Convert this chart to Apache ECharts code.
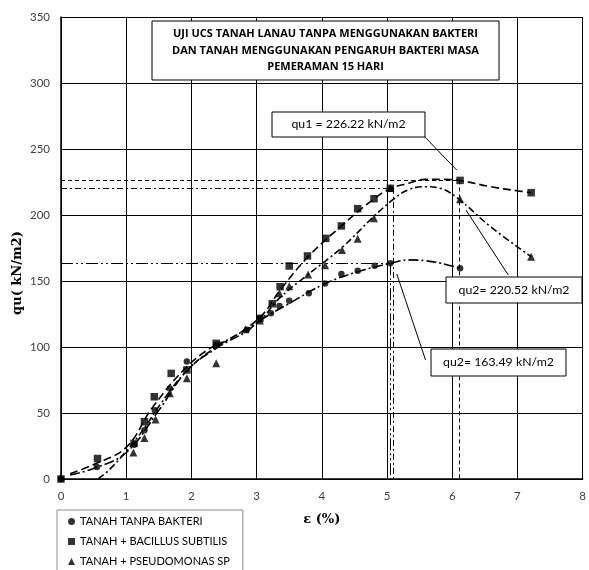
<!DOCTYPE html>
<html><head><meta charset="utf-8">
<script src="https://cdn.jsdelivr.net/npm/echarts@6/dist/echarts.min.js"></script>
<style>html,body{margin:0;padding:0;background:#fff}#c{width:589px;height:570px}</style>
</head><body><div id="c"></div>
<script>
// ---- data ----
const seriesNames = ['TANAH TANPA BAKTERI', 'TANAH + BACILLUS SUBTILIS', 'TANAH + PSEUDOMONAS SP'];
const xTicks = [0, 1, 2, 3, 4, 5, 6, 7, 8];
const yTicks = [0, 50, 100, 150, 200, 250, 300, 350];

const tanpaBakteri = [[0,0],[0.55,9],[1.12,26],[1.28,37],[1.44,52],[1.67,68.5],[1.93,89],[2.38,101.5],[2.85,113],[3.05,121.7],[3.22,125.5],[3.35,131],[3.5,135],[3.8,140.7],[4.05,148.2],[4.3,155.3],[4.55,157.8],[4.81,161.6],[5.05,163.49],[6.12,159.6]];
const bacillus = [[0,0],[0.56,15.5],[1.12,27],[1.28,43.4],[1.43,62.3],[1.69,80],[1.93,82.6],[2.38,102.8],[3.05,121.7],[3.24,132.8],[3.36,145.7],[3.5,161.4],[3.78,169],[4.06,182.3],[4.3,191.7],[4.55,204.8],[4.8,212.3],[5.05,220.2],[6.12,226.22],[7.21,216.9]];
const pseudomonas = [[1.11,20],[1.28,31],[1.45,45],[1.67,65],[1.93,76.3],[2.38,87.7],[2.83,113.5],[3.05,120],[3.35,140.7],[3.5,146],[3.79,155],[4.05,162],[4.31,173.5],[4.55,182],[4.8,197.5],[5.05,220.52],[6.12,211.9],[7.21,168.4]];

// trend curves
const trendTanpa = [[0.14,3],[0.5,8],[1.0,20],[1.5,52],[1.93,82],[2.38,99],[2.85,112],[3.05,120],[3.5,133],[4.05,148],[4.55,157],[5.05,163.4],[5.33,166],[5.58,165.4],[5.83,163.4],[6.12,159.6]];
const trendBacillus = [[0.14,4],[0.5,11],[1.0,24],[1.4,54],[1.93,85],[2.38,102],[2.56,105],[3.06,123],[3.36,143],[3.79,168.4],[4.3,191.7],[4.8,212.3],[5.05,220],[5.33,224],[5.58,227],[5.83,227],[6.13,226],[6.59,221.4],[6.99,218.4],[7.21,216.9]];
const trendPseudo = [[0.57,0],[0.74,7],[1.0,21],[1.3,40],[1.5,55],[1.93,82],[2.38,100],[2.83,113],[3.05,120],[3.35,137],[3.79,155],[4.3,175],[4.8,199],[5.1,212],[5.32,219],[5.58,221.4],[5.83,220],[6.1,212],[6.59,191],[7.21,168.4]];

// peak reference values
const peakBacillus = [6.1, 226.22];
const peakPseudo = [5.1, 220.52];
const peakTanpa = [5.05, 163.49];
const titleLines = ['UJI UCS TANAH LANAU TANPA MENGGUNAKAN BAKTERI', 'DAN TANAH MENGGUNAKAN PENGARUH BAKTERI MASA', 'PEMERAMAN 15 HARI'];
const noteTexts = ['qu1 = 226.22 kN/m2', 'qu2= 220.52 kN/m2', 'qu2= 163.49 kN/m2'];
// arrows: [from, to] in data units
const noteArrows = [[[5.51,262.7],[6.07,234]], [[6.86,154.5],[6.21,203.8]], [[5.59,90.2],[5.15,155.3]]];

// ---- chart ----
const chart = echarts.init(document.getElementById('c'));
const sans = 'Lato, "Liberation Sans", sans-serif';
const boldSans = '"Open Sans", "Noto Sans", sans-serif';
function refLines(p, dash) {
  return {
    silent: true, symbol: ['none','none'], animation: false, label: {show:false},
    lineStyle: {color:'#000', width:1, type: dash},
    emphasis: {disabled:true},
    data: [
      [{coord:[0, p[1]]}, {coord:[p[0], p[1]]}],
      [{coord:[p[0], p[1]]}, {coord:[p[0], 0]}]
    ]
  };
}
function trend(data, dash, ref) {
  return {type:'line', data: data, smooth: 0.4, showSymbol:false, silent:true, z:2,
    lineStyle:{color:'#000', width:1.6, type: dash}, markLine: ref};
}
function box(x, y, w, h, text, font) {
  return [
    {type:'rect', z:100, shape:{x:x, y:y, width:w, height:h}, style:{fill:'#fff', stroke:'#000', lineWidth:1}},
    {type:'text', z:101, x:x + w/2, y:y + h/2, style:Object.assign({text:text, textAlign:'center', textVerticalAlign:'middle', fill:'#000'}, font)}
  ];
}
const icons = ['circle','rect','triangle'];
const noteFont = {fontFamily: sans, fontSize: 12.3};
chart.setOption({
  animation: false,
  backgroundColor: '#fff',
  grid: {left: 61, top: 17, width: 530, height: 462, containLabel: false},
  xAxis: {
    type:'value', min: xTicks[0], max: xTicks[xTicks.length-1], interval: 1,
    name: 'ε (%)', nameLocation:'middle', nameGap: 34,
    nameTextStyle: {fontFamily:'"DejaVu Serif", serif', fontWeight:'bold', fontSize:13, color:'#000'},
    axisLine: {lineStyle:{color:'#000', width:1.5}},
    axisTick: {show:false},
    axisLabel: {color:'#404040', fontSize:11.5, fontFamily: sans, margin: 11},
    splitLine: {lineStyle:{color:'#000', width:1}}
  },
  yAxis: {
    type:'value', min: yTicks[0], max: yTicks[yTicks.length-1], interval: 50,
    axisLine: {show:true, lineStyle:{color:'#000', width:1.5}},
    axisTick: {show:false},
    axisLabel: {color:'#404040', fontSize:11.5, fontFamily: sans, margin: 11},
    splitLine: {lineStyle:{color:'#000', width:1}}
  },
  legend: {
    orient:'vertical', left: 57, top: 510, height: 120,
    data: seriesNames.map((n,i) => ({name:n, icon: icons[i]})),
    itemWidth: 7, itemHeight: 7, itemGap: 7,
    borderColor:'#8c8c8c', borderWidth:1, padding:[5, 13, 12, 11],
    textStyle: {fontFamily: sans, fontSize: 11, color:'#000', lineHeight: 13}
  },
  graphic: [].concat(
    box(152, 21, 347, 59, titleLines.join('\n'), {fontFamily: boldSans, fontWeight:'bold', fontSize:11, lineHeight:16.2}),
    box(272, 112, 153, 25, noteTexts[0], noteFont),
    box(446, 277, 136, 26, noteTexts[1], noteFont),
    box(431, 349, 135, 27, noteTexts[2], noteFont),
    [{type:'text', z:101, x:18, y:273, rotation: Math.PI/2,
      style:{text:'qu( kN/m2)', textAlign:'center', textVerticalAlign:'middle', fontFamily:'"DejaVu Serif", serif', fontWeight:'bold', fontSize:13, fill:'#000'}}]
  ),
  series: [
    trend(trendTanpa, [10,3,2,3], refLines(peakTanpa, [12,3,2,3,2,3])),
    trend(trendBacillus, [8,4], refLines(peakBacillus, [4,3])),
    trend(trendPseudo, [7,3,2,3], refLines(peakPseudo, [6,3,2,3])),
    {name: seriesNames[2], type:'scatter', data: pseudomonas, symbol:'triangle', symbolSize:8, itemStyle:{color:'#000'}, z:3},
    {name: seriesNames[0], type:'scatter', data: tanpaBakteri, symbol:'circle', symbolSize:6.5, itemStyle:{color:'#000'}, z:4},
    {name: seriesNames[1], type:'scatter', data: bacillus, symbol:'rect', symbolSize:7.5, itemStyle:{color:'#000'}, z:5},
    {type:'scatter', data: [], silent:true, z:1,
      markLine: {silent:true, animation:false, symbol:['none','arrow'], symbolSize:[0,8], label:{show:false},
        lineStyle:{color:'#000', width:1, type:'solid'}, emphasis:{disabled:true},
        data: noteArrows.map(a => [{coord:a[0]}, {coord:a[1]}])}}
  ]
});
</script>
</body></html>
